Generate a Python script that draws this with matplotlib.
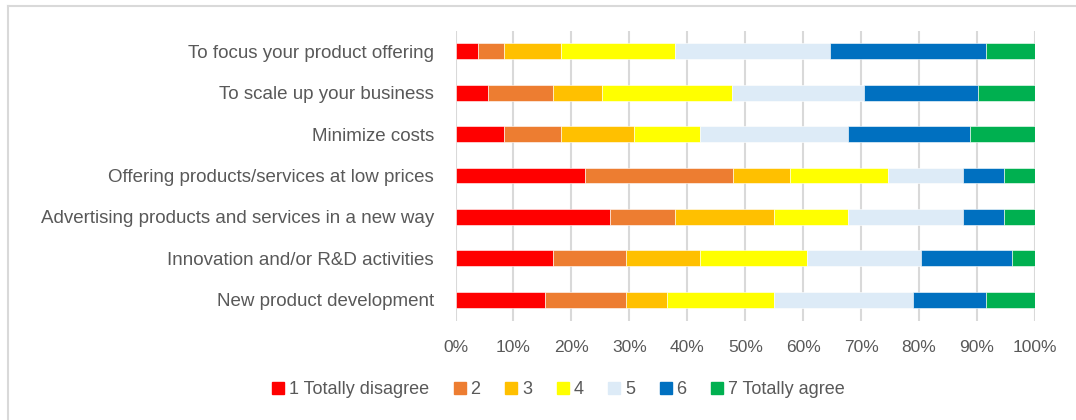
import numpy as np
import matplotlib.pyplot as plt
from matplotlib.lines import Line2D

categories = ['To focus your product offering',
              'To scale up your business',
              'Minimize costs',
              'Offering products/services at low prices',
              'Advertising products and services in a new way',
              'Innovation and/or R&D activities',
              'New product development']

levels = ['1 Totally disagree', '2', '3', '4', '5', '6', '7 Totally agree']
colors = ['#FF0000', '#ED7D31', '#FFC000', '#FFFF00', '#DDEBF7', '#0070C0', '#00B050']

# share of answers (%) per level, one list per category
focus = [3.9, 4.4, 9.9, 19.7, 26.8, 26.9, 8.4]
scale_up = [5.6, 11.2, 8.5, 22.4, 22.8, 19.7, 9.8]
min_costs = [8.3, 9.9, 12.6, 11.4, 25.5, 21.1, 11.2]
low_prices = [22.3, 25.5, 9.9, 16.9, 12.9, 7.1, 5.4]
advertising = [26.7, 11.2, 17.0, 12.8, 19.8, 7.1, 5.4]
innovation = [16.8, 12.6, 12.8, 18.5, 19.6, 15.7, 4.0]
new_product = [15.4, 14.0, 7.1, 18.4, 24.0, 12.7, 8.4]

data = np.array([focus, scale_up, min_costs, low_prices,
                 advertising, innovation, new_product])

plt.rcParams['font.family'] = ['Liberation Sans', 'DejaVu Sans']
text_col = '#595959'

W, H = 1076, 420
fig = plt.figure(figsize=(W / 100, H / 100), dpi=100)
ax = fig.add_axes([455.5 / W, 1 - 320.5 / H, (1035 - 455.5) / W, 290 / H])

y = np.arange(len(categories))
left = np.zeros(len(categories))
for i in range(len(levels)):
    ax.barh(y, data[:, i], left=left, height=0.38, color=colors[i],
            edgecolor='white', linewidth=0.4, label=levels[i], zorder=3)
    left += data[:, i]

ax.set_xlim(0, 100)
ax.set_ylim(len(categories) - 0.5, -0.5)
ax.set_yticks(y)
ax.set_yticklabels(categories)
ax.set_xticks(np.arange(0, 101, 10))
ax.set_xticklabels([f'{v}%' for v in range(0, 101, 10)])
ax.tick_params(axis='both', length=0, colors=text_col)
ax.tick_params(axis='y', pad=15.5, labelsize=13.5)
ax.tick_params(axis='x', pad=14, labelsize=12.5)
ax.grid(axis='x', color='#D9D9D9', linewidth=1.5, zorder=0)
for s in ax.spines.values():
    s.set_visible(False)

handles = [Line2D([], [], marker='s', linestyle='none', markersize=8,
                  markerfacecolor=c, markeredgecolor=c) for c in colors]
fig.legend(handles, levels, loc='center', bbox_to_anchor=(557 / W, 1 - 390 / H),
           ncol=7, frameon=False, fontsize=13, labelcolor=text_col,
           handletextpad=0.1, columnspacing=1.2, handlelength=1.0)

# chart frame
fig.add_artist(Line2D([8 / W, 8 / W], [0, 1 - 6 / H], color='#D9D9D9', linewidth=1.5))
fig.add_artist(Line2D([8 / W, 1], [1 - 6 / H, 1 - 6 / H], color='#D9D9D9', linewidth=1.5))

fig.savefig('out.png', dpi=100)
